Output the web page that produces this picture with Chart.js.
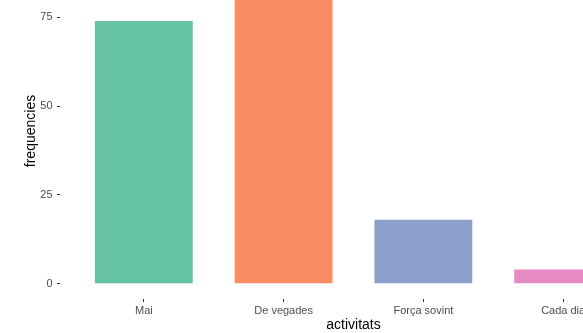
<!DOCTYPE html>
<html>
<head>
<meta charset="utf-8">
<script src="https://cdn.jsdelivr.net/npm/chart.js@4/dist/chart.umd.min.js"></script>
<style>
    html, body {
        margin: 0;
        width: 583px;
        height: 333px;
        overflow: hidden;
        background: #ffffff;
    }
    #chart {
        position: absolute;
        left: 0;
        top: -50px;
    }
</style>
</head>
<body>
<canvas id="chart" width="700" height="384"></canvas>
<script>
const activitats = ["Mai", "De vegades", "Força sovint", "Cada dia"];
const frequencies = [74, 86, 18, 4];
const barColors = ["#66C2A5", "#FC8D62", "#8DA0CB", "#E78AC3"];
const yTicks = [0, 25, 50, 75];

const font = "'Liberation Sans', Arial, sans-serif";

window.addEventListener("load", () => {
    const ctx = document.querySelector("#chart");

    new Chart(ctx, {
        type: "bar",
        data: {
            datasets: [{
                data: activitats.map((a, i) => ({ x: i, y: frequencies[i] })),
                backgroundColor: barColors,
                borderWidth: 0,
                categoryPercentage: 1,
                barPercentage: 0.7
            }]
        },
        options: {
            responsive: false,
            animation: false,
            layout: {
                padding: { top: 13, right: 53, left: 0, bottom: 0 }
            },
            scales: {
                x: {
                    // discrete axis with ggplot-style 0.6 expansion on each side
                    type: "linear",
                    min: -0.6,
                    max: 3.6,
                    offset: false,
                    afterBuildTicks: (scale) => {
                        scale.ticks = activitats.map((a, i) => ({ value: i }));
                    },
                    afterFit: (scale) => {
                        scale.height = 35;
                    },
                    border: { display: false },
                    grid: {
                        offset: false,
                        drawOnChartArea: false,
                        tickLength: 3,
                        tickWidth: 1,
                        tickColor: "#333333"
                    },
                    ticks: {
                        padding: 2,
                        color: "#4D4D4D",
                        font: { family: font, size: 11 },
                        maxRotation: 0,
                        autoSkip: false,
                        callback: (v) => activitats[v]
                    },
                    title: {
                        display: true,
                        text: "activitats",
                        color: "#000000",
                        padding: 0,
                        font: { family: font, size: 14 }
                    }
                },
                y: {
                    min: -4.3,
                    max: 90.3,
                    afterBuildTicks: (scale) => {
                        scale.ticks = yTicks.map(v => ({ value: v }));
                    },
                    afterFit: (scale) => {
                        scale.width = 60;
                    },
                    border: { display: false },
                    grid: {
                        drawOnChartArea: false,
                        tickLength: 3,
                        tickWidth: 1,
                        tickColor: "#333333"
                    },
                    ticks: {
                        padding: 4.5,
                        color: "#4D4D4D",
                        font: { family: font, size: 11 }
                    },
                    title: {
                        display: true,
                        text: "frequencies",
                        color: "#000000",
                        padding: { top: 23, bottom: 0 },
                        font: { family: font, size: 14 }
                    }
                }
            },
            plugins: {
                legend: { display: false },
                tooltip: { enabled: false }
            }
        }
    });
});
</script>
</body>
</html>
